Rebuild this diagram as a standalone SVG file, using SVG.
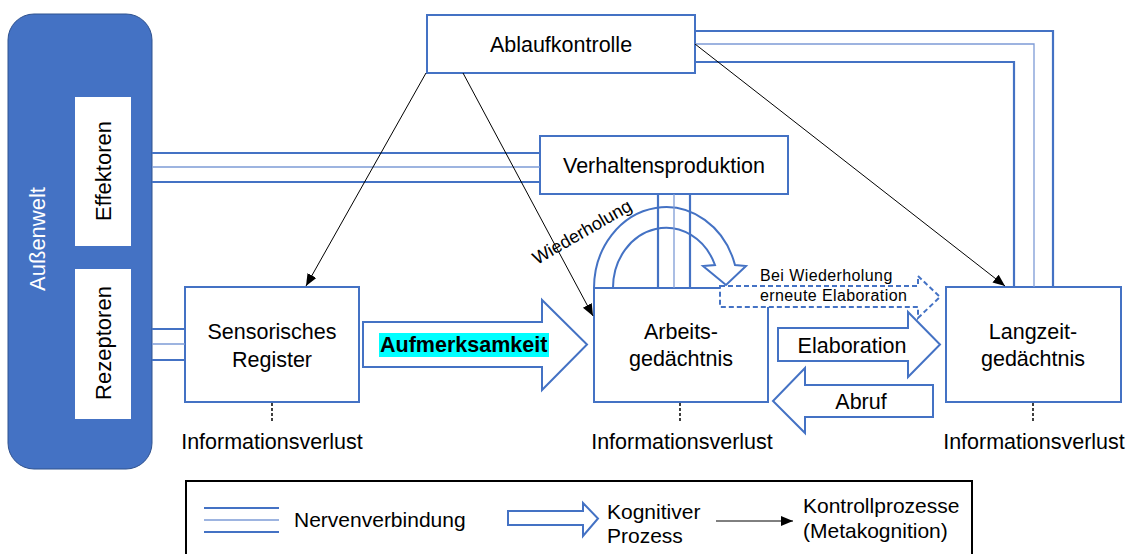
<svg xmlns="http://www.w3.org/2000/svg" width="1131" height="554" viewBox="0 0 1131 554">
<style>
text{font-family:"Liberation Sans",Arial,sans-serif;fill:#000;}
.lbl{font-size:21.5px;text-anchor:middle;}
.box{fill:#fff;stroke:#4472C4;stroke-width:2;}
.nv{fill:none;stroke:#4472C4;stroke-width:2.2;}
.nvm{fill:none;stroke:#7D9BD6;stroke-width:1.3;}
.ctl{fill:none;stroke:#000;stroke-width:1;marker-end:url(#ah);}
.proc{fill:#fff;stroke:#4472C4;stroke-width:2;stroke-linejoin:miter;}
.loss{stroke:#000;stroke-width:1.5;stroke-dasharray:3 2;}
</style>
<defs>
<marker id="ah" markerUnits="userSpaceOnUse" markerWidth="13" markerHeight="11" refX="12" refY="5" orient="auto">
<path d="M0,0 L12,5 L0,10 Z" fill="#000"/>
</marker>
</defs>
<rect width="1131" height="554" fill="#fff"/>

<g id="aussenwelt">
<rect x="8" y="14" width="144" height="455" rx="26" ry="26" fill="#4472C4" stroke="#2F528F" stroke-width="1"/>
<text transform="translate(45,239) rotate(-90)" style="font-size:22px;text-anchor:middle;fill:#fff">Außenwelt</text>
</g>
<g id="effektoren">
<rect x="75" y="97" width="56" height="149" fill="#fff"/>
<text transform="translate(111,171) rotate(-90)" style="font-size:22px;text-anchor:middle">Effektoren</text>
</g>
<g id="rezeptoren">
<rect x="75" y="269" width="56" height="150" fill="#fff"/>
<text transform="translate(111,343) rotate(-90)" style="font-size:22px;text-anchor:middle">Rezeptoren</text>
</g>
<g id="ablaufkontrolle">
<rect class="box" x="427" y="15" width="268" height="58"/>
<text class="lbl" x="561" y="52">Ablaufkontrolle</text>
</g>
<g id="verhaltensproduktion">
<rect class="box" x="540" y="136" width="248" height="58"/>
<text class="lbl" x="664" y="173">Verhaltensproduktion</text>
</g>
<g id="sensorisches-register">
<rect class="box" x="185" y="287" width="174" height="115"/>
<text class="lbl" x="272" y="339">Sensorisches</text>
<text class="lbl" x="272" y="367">Register</text>
<line class="loss" x1="272" y1="403" x2="272" y2="421"/>
<text class="lbl" x="272" y="448.5">Informationsverlust</text>
</g>
<g id="arbeitsgedaechtnis">
<rect class="box" x="594" y="288" width="174" height="114"/>
<text class="lbl" x="681" y="338.5">Arbeits-</text>
<text class="lbl" x="681" y="365.5">gedächtnis</text>
<line class="loss" x1="680" y1="403" x2="680" y2="421"/>
<text class="lbl" x="682" y="448.5">Informationsverlust</text>
</g>
<g id="langzeitgedaechtnis">
<rect class="box" x="946" y="287" width="175" height="115"/>
<text class="lbl" x="1033" y="338.5">Langzeit-</text>
<text class="lbl" x="1033" y="365.5">gedächtnis</text>
<line class="loss" x1="1033" y1="403" x2="1033" y2="421"/>
<text class="lbl" x="1034" y="448.5">Informationsverlust</text>
</g>

<g id="connectors">
<!-- nerve connections -->
<path class="nv" d="M152,153 H540 M152,182 H540"/>
<path class="nvm" d="M152,167 H540"/>
<path class="nv" d="M152,329 H185 M152,360 H185"/>
<path class="nvm" d="M152,344 H185"/>
<path class="nv" d="M695,31 H1053 V287 M695,62 H1014 V287"/>
<path class="nvm" d="M695,44 H1034 V287"/>
<!-- Wiederholung loop -->
<path fill="none" stroke="#4472C4" stroke-width="2" d="M594,288 A72,81 0 0 1 735,265 L746,266 L726,285 L703,266 L715,265 A53,60 0 0 0 613,288 Z"/>
<path class="nv" d="M658,194 V288 M690,194 V288"/>
<path class="nvm" d="M674,194 V288"/>
<text transform="translate(582,232) rotate(-30)" style="font-size:18px;text-anchor:middle" dominant-baseline="central">Wiederholung</text>
<!-- control processes -->
<line class="ctl" x1="426" y1="73" x2="306" y2="286"/>
<line class="ctl" x1="463" y1="73" x2="593" y2="316"/>
<line class="ctl" x1="695" y1="44" x2="1005" y2="286"/>
<!-- cognitive processes -->
<path class="proc" d="M363,322 H542 V300 L587,344.5 L542,390 V367 H363 Z"/>
<rect x="379" y="333" width="170" height="24" fill="#00FFFF"/>
<text x="380" y="352" style="font-size:21.5px;font-weight:bold">Aufmerksamkeit</text>
<path class="proc" d="M720,286 H918 V276 L940,297 L918,318 V307 H720 Z" stroke-dasharray="5 3" stroke-width="1.6"/>
<text x="760" y="281" style="font-size:16px;letter-spacing:0.4px">Bei Wiederholung</text>
<text x="760" y="301" style="font-size:16px;letter-spacing:0.4px">erneute Elaboration</text>
<path class="proc" d="M778,328 H908 V312 L940,344.5 L908,377 V361 H778 Z"/>
<text class="lbl" x="852" y="352.5">Elaboration</text>
<path class="proc" d="M933,385 H805 V368 L773,401 L805,433 V417 H933 Z"/>
<text class="lbl" x="861" y="409">Abruf</text>
</g>

<g id="legende">
<rect x="186" y="481" width="786" height="90" fill="#fff" stroke="#000" stroke-width="2"/>
<path class="nv" d="M204,508 H279 M204,532 H279"/>
<path class="nvm" d="M204,520 H279"/>
<text x="294" y="527" style="font-size:21px">Nervenverbindung</text>
<path class="proc" d="M508,511 H583 V503 L598,518.5 L583,536 V525 H508 Z"/>
<text x="607" y="519" style="font-size:21px">Kognitiver</text>
<text x="607" y="543" style="font-size:21px">Prozess</text>
<line class="ctl" x1="716" y1="521" x2="793" y2="521"/>
<text x="803" y="513" style="font-size:21px">Kontrollprozesse</text>
<text x="803" y="538" style="font-size:21px">(Metakognition)</text>
</g>
</svg>
